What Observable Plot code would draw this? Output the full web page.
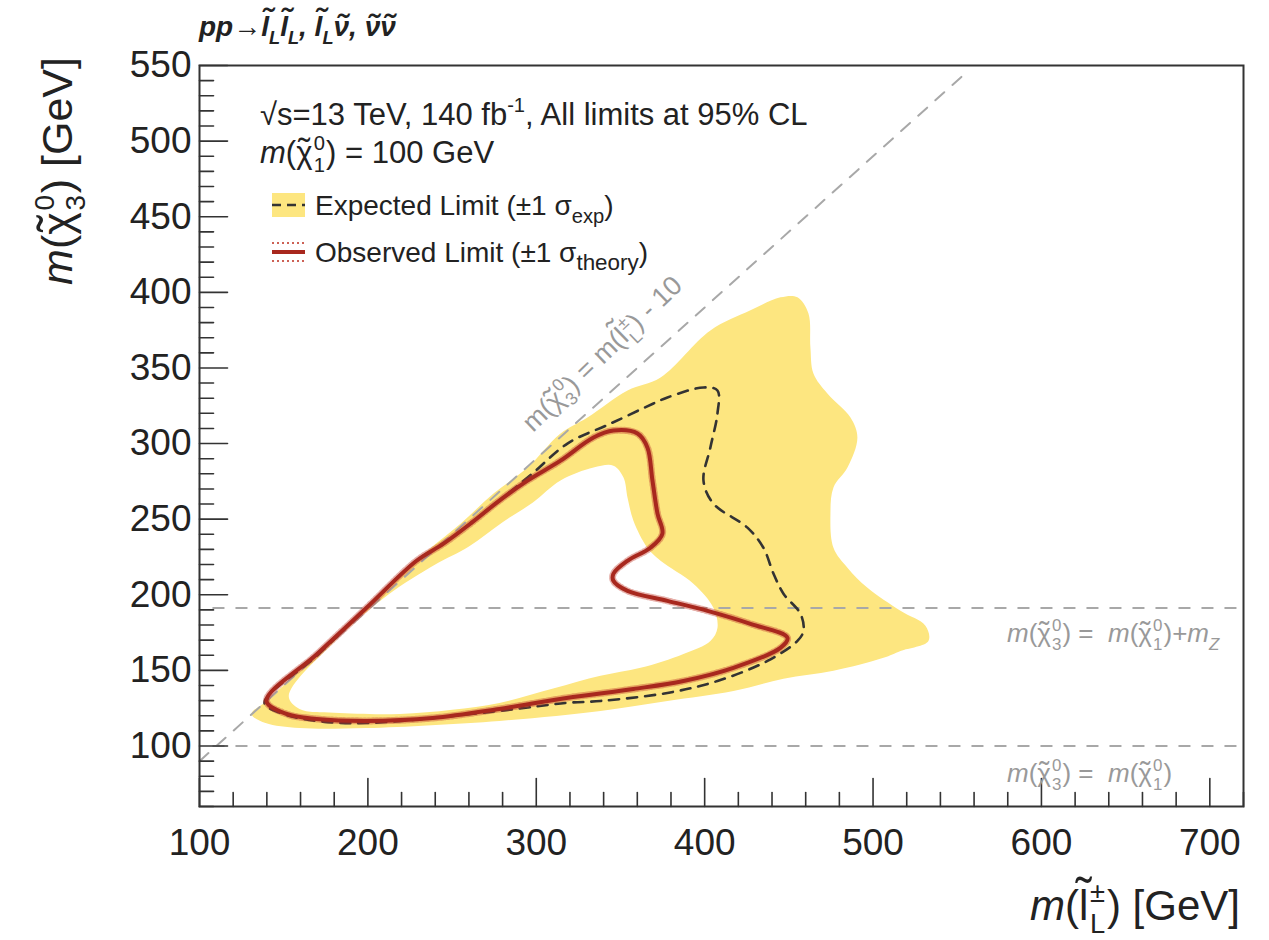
<!DOCTYPE html>
<html>
<head>
<meta charset="utf-8">
<script src="https://cdn.jsdelivr.net/npm/d3@7"></script>
<script src="https://cdn.jsdelivr.net/npm/@observablehq/plot@0.6"></script>
<style>
  body { margin: 0; background: #fff; }
  svg { display: block; }
</style>
</head>
<body>
<div id="chart"></div>
<script>
// ---------------- data ----------------
// Expected limit ±1σ band: outer contour
const bandOuterX = [130.9,139.8,170,200,215,235.4,255.0,274.6,294.8,314.4,330.4,354.2,373.8,403.4,427.2,445.0,455.1,461.6,462.8,464.6,472.9,486.6,490.7,484.8,476.5,474.7,476.5,484.8,496.7,516.3,531.1,532.9,516.3,506.2,476.5,446.8,417.1,377.9,338.1,278.1,199.2,159.4,139.2];
const bandOuterY = [121.2,129.8,160.5,191,207,229.1,247.0,266.9,284.1,306.6,317.2,335.1,343.7,374.8,388.1,396.7,396.7,386.1,363.6,346.4,333.1,317.2,304.0,284.1,270.9,253.6,231.1,217.9,204.6,189.4,179.5,169.5,162.9,158.3,149.7,144.4,136.4,129.8,123.2,116.6,111.9,111.9,115.2];
// Expected limit ±1σ band: inner contour (hole)
const bandInnerX = [153,180,212,240,260,280,298,314.4,334.0,345.8,351.8,354.2,357.7,366.0,373.8,393.3,405.2,407.6,403.4,387.4,361.9,338.1,310,278.1,250,218.8,180,159.4];
const bandInnerY = [133,169,200,220,232,248,261,275.5,284.1,285.4,277.5,264.2,249.0,231.1,222.5,207.3,191.4,178.1,169.5,160.9,151.7,146.4,138,128.5,124,121.2,122,124.5];
// Expected limit (dashed)
const expX = [138.6,170,199.2,228.9,244.9,262,278.1,298.3,318.5,344.1,369.6,377.9,399.3,407.6,407.6,403.4,399.3,405.2,425.4,434.9,440.9,446.8,456.9,458.7,455.1,437.3,407.6,377.9,338.1,317.9,278.1,199.2,169.5,148];
const expY = [128.5,160,191.4,222.5,233.8,248,262.3,280.8,300.0,313.2,326.5,330.5,337.1,335.1,319.9,297.4,275.5,260.3,244.4,231.1,213.9,200.7,187.4,176.2,169.5,156.3,143.0,135.1,129.8,128.5,123.2,115.2,116.6,121.9];
// Observed limit (solid red)
const obsX = [139.8,170,199.2,228.9,244.9,262,278.1,294.8,314.4,334.0,345.8,360.1,366.0,369.0,372.0,374.9,367.8,354.2,345.8,345.8,354.2,377.9,401.7,427.2,449.2,445.0,417.1,387.4,357.7,317.9,278.1,238.4,199.2,169.5,151.7];
const obsY = [129.8,161,191.4,222.5,233.8,248,262.3,275.5,288.7,304.0,308.6,306.6,297.4,275.5,253.6,240.4,231.1,222.5,213.9,209.3,202.6,196.0,189.4,180.8,171.5,164.9,151.7,143.0,137.7,131.8,124.5,118.5,116.6,117.9,121.2];
// Reference lines
const diagX = [100, 557];          // m(chi3) = m(slepton) - 10
const diagY = [90, 547];
const levelY = [100, 191.2];       // m(chi1), m(chi1)+mZ
// Axis ticks
const xMajor = [100,200,300,400,500,600,700];
const xMinor = [120,140,160,180,220,240,260,280,320,340,360,380,420,440,460,480,520,540,560,580,620,640,660,680,720];
const yMajor = [100,150,200,250,300,350,400,450,500,550];
const yMinor = [60,70,80,90,110,120,130,140,160,170,180,190,210,220,230,240,260,270,280,290,310,320,330,340,360,370,380,390,410,420,430,440,460,470,480,490,510,520,530,540];

// ---------------- build ----------------
const pts = (X, Y) => X.map((x, i) => ({x, y: Y[i]}));
const bandOuter = pts(bandOuterX, bandOuterY);
const bandInner = pts(bandInnerX, bandInnerY);
const expected = pts(expX, expY);
const observed = pts(obsX, obsY);
const diag = pts(diagX, diagY);

const FONT = "'Liberation Sans', Arial, Helvetica, sans-serif";
const YELLOW = "#fde680";
const RED = "#a8281e";
const GREY = "#a8a8a8";
const tickShape = { draw(context, l) { context.moveTo(0, 0); context.lineTo(0, -l); } };

const plot = Plot.plot({
  width: 1269,
  height: 940,
  marginLeft: 199,
  marginRight: 26,
  marginTop: 65,
  marginBottom: 134,
  style: { fontFamily: FONT, background: "#fff", color: "#222" },
  x: { domain: [100, 720], label: null },
  y: { domain: [60, 550], label: null },
  marks: [
    Plot.line(bandOuter, { x: "x", y: "y", fill: YELLOW, stroke: "none", curve: "catmull-rom-closed" }),
    Plot.line(bandInner, { x: "x", y: "y", fill: "#fff", stroke: "none", curve: "catmull-rom-closed" }),
    Plot.ruleY(levelY, { y: d => d, x1: 108, x2: 720, stroke: GREY, strokeWidth: 2, strokeDasharray: "12,11" }),
    Plot.line(diag, { x: "x", y: "y", stroke: GREY, strokeWidth: 2, strokeDasharray: "12,11" }),
    Plot.line(expected, { x: "x", y: "y", stroke: "#333", strokeWidth: 2.6, strokeDasharray: "10,8", curve: "catmull-rom-closed" }),
    Plot.line(observed, { x: "x", y: "y", stroke: "#c0392b", strokeWidth: 7, strokeDasharray: "1.5,2.5", strokeOpacity: 0.4, curve: "catmull-rom-closed" }),
    Plot.line(observed, { x: "x", y: "y", stroke: RED, strokeWidth: 4, curve: "catmull-rom-closed" }),
    Plot.frame({ stroke: "#333", strokeWidth: 2 }),
    Plot.vector(yMajor, { x: 100, y: d => d, length: 28, rotate: 90, anchor: "start", shape: tickShape, stroke: "#333", strokeWidth: 1.6 }),
    Plot.vector(yMinor, { x: 100, y: d => d, length: 14, rotate: 90, anchor: "start", shape: tickShape, stroke: "#333", strokeWidth: 1.6 }),
    Plot.vector(xMajor, { x: d => d, y: 60, length: 28, rotate: 0, anchor: "start", shape: tickShape, stroke: "#333", strokeWidth: 1.6 }),
    Plot.vector(xMinor, { x: d => d, y: 60, length: 14, rotate: 0, anchor: "start", shape: tickShape, stroke: "#333", strokeWidth: 1.6 }),
    Plot.axisX({ ticks: xMajor, tickSize: 0, tickPadding: 22, fontSize: 37, label: null, tickFormat: d => String(d) }),
    Plot.axisY({ ticks: yMajor, tickSize: 0, tickPadding: 8, fontSize: 37, label: null, tickFormat: d => String(d) })
  ]
});
document.getElementById("chart").appendChild(plot);

// ---------------- rich text annotations ----------------
const svg = d3.select(plot);
function rich(sel, { x, y, fs, fill = "#222", anchor = "start", rotate = 0, weight = "normal", italicAll = false, scr = 0.65 }, parts) {
  const t = sel.append("text")
    .attr("transform", `translate(${x},${y}) rotate(${rotate})`)
    .attr("font-size", fs).attr("fill", fill).attr("text-anchor", anchor)
    .attr("font-weight", weight).attr("font-family", FONT)
    .style("font-style", italicAll ? "italic" : "normal");
  let cur = 0, pendingDx = 0;
  const add = (txt, off, size, extra = {}) => {
    const ts = t.append("tspan").text(txt).attr("dy", off - cur).attr("font-size", size);
    const dx = pendingDx + (extra.dx || 0);
    if (dx) ts.attr("dx", dx);
    pendingDx = 0;
    if (extra.italic) ts.style("font-style", "italic");
    cur = off;
    return ts;
  };
  for (const p of parts) {
    if (typeof p === "string") add(p, 0, fs);
    else if (p.i != null) add(p.i, 0, fs, { italic: true });
    else if (p.acc != null) {
      // base letter with a tilde accent placed over it
      const base = add(p.acc, 0, fs, { italic: !!p.it });
      const wb = base.node().getComputedTextLength();
      const tl = add("\u02DC", -(p.up || 0) * fs, fs * 1.15);
      const wt = tl.node().getComputedTextLength();
      tl.attr("dx", -(wb + wt) / 2 + (p.shift || 0) * fs);
      pendingDx = (wb - wt) / 2 - (p.shift || 0) * fs;
    }
    else if (p.sup != null && p.sub != null) {
      const s = fs * scr;
      const a = add(p.sup, -0.42 * fs, s, { dx: 0.04 * fs });
      const wa = a.node().getComputedTextLength();
      const b = add(p.sub, 0.3 * fs, s, { dx: -wa });
      const wb = b.node().getComputedTextLength();
      pendingDx = (wa > wb ? wa - wb : 0) + 0.04 * fs;
    } else if (p.sup != null) add(p.sup, -0.42 * fs, fs * scr);
    else if (p.sub != null) add(p.sub, 0.3 * fs, fs * scr, { italic: !!p.it });
  }
  return t;
}

// process title
rich(svg, { x: 199, y: 36, fs: 28, weight: "bold", italicAll: true },
  ["pp→", { acc: "l", up: 0.2, shift: 0.05 }, { sub: "L" }, { acc: "l", up: 0.2, shift: 0.05 }, { sub: "L" }, ", ",
   { acc: "l", up: 0.2, shift: 0.05 }, { sub: "L" }, { acc: "ν" }, ", ", { acc: "ν" }, { acc: "ν" }]);

// axis titles
rich(svg, { x: 72, y: 57, fs: 43, anchor: "end", rotate: -90 },
  [{ i: "m" }, "(", { acc: "χ" }, { sup: "0", sub: "3" }, ") [GeV]"]);
rich(svg, { x: 1240, y: 920, fs: 42, anchor: "end" },
  [{ i: "m" }, "(", { acc: "l", up: 0.22 }, { sup: "±", sub: "L" }, ") [GeV]"]);

// info text
rich(svg, { x: 260, y: 125, fs: 31 }, ["√s=13 TeV, 140 fb", { sup: "-1" }, ", All limits at 95% CL"]);
rich(svg, { x: 260, y: 163, fs: 31 }, [{ i: "m" }, "(", { acc: "χ" }, { sup: "0", sub: "1" }, ") = 100 GeV"]);

// legend
svg.append("rect").attr("x", 272).attr("y", 193).attr("width", 33).attr("height", 24).attr("fill", YELLOW);
svg.append("line").attr("x1", 272).attr("x2", 305).attr("y1", 205).attr("y2", 205)
  .attr("stroke", "#333").attr("stroke-width", 2.5).attr("stroke-dasharray", "9,6");
rich(svg, { x: 315, y: 215, fs: 28, scr: 0.72 }, ["Expected Limit (±1 σ", { sub: "exp" }, ")"]);
svg.append("line").attr("x1", 272).attr("x2", 305).attr("y1", 252).attr("y2", 252)
  .attr("stroke", RED).attr("stroke-width", 4);
for (const yy of [243, 261]) {
  svg.append("line").attr("x1", 272).attr("x2", 305).attr("y1", yy).attr("y2", yy)
    .attr("stroke", "#c0392b").attr("stroke-width", 2).attr("stroke-dasharray", "2,3").attr("stroke-opacity", 0.8);
}
rich(svg, { x: 315, y: 262, fs: 28, scr: 0.8 }, ["Observed Limit (±1 σ", { sub: "theory" }, ")"]);

// reference line labels
rich(svg, { x: 1007, y: 642, fs: 26, fill: "#999" },
  [{ i: "m" }, "(", { acc: "χ" }, { sup: "0", sub: "3" }, ") =  ", { i: "m" }, "(", { acc: "χ" }, { sup: "0", sub: "1" }, ")+", { i: "m" }, { sub: "Z", it: true }]);
rich(svg, { x: 1007, y: 782, fs: 26, fill: "#999" },
  [{ i: "m" }, "(", { acc: "χ" }, { sup: "0", sub: "3" }, ") =  ", { i: "m" }, "(", { acc: "χ" }, { sup: "0", sub: "1" }, ")"]);
rich(svg, { x: 533, y: 433, fs: 27, fill: "#999", rotate: -44 },
  ["m(", { acc: "χ" }, { sup: "0", sub: "3" }, ") = m(", { acc: "l", up: 0.22 }, { sup: "±", sub: "L" }, ") - 10"]);
</script>
</body>
</html>
